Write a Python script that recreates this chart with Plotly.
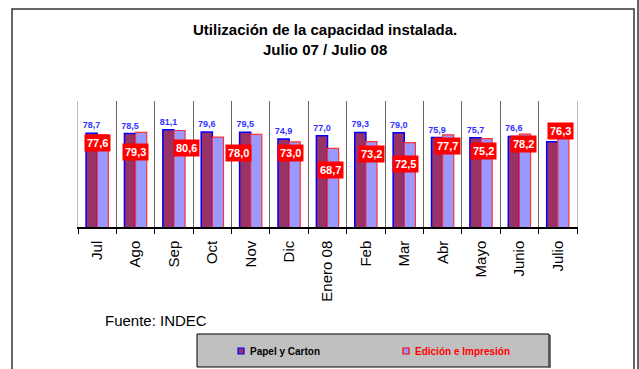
import plotly.graph_objects as go

# Monthly installed-capacity utilisation (%), July 2007 - July 2008
meses = ["Jul", "Ago", "Sep", "Oct", "Nov", "Dic", "Enero 08",
         "Feb", "Mar", "Abr", "Mayo", "Junio", "Julio"]
papel = [78.7, 78.5, 81.1, 79.6, 79.5, 74.9, 77.0, 79.3, 79.0, 75.9, 75.7, 76.6, 73.1]
edicion = [77.6, 79.3, 80.6, 76.2, 78.0, 73.0, 68.7, 73.2, 72.5, 77.7, 75.2, 78.2, 76.3]

# which points carry a value label
papel_con_rotulo = [True] * 12 + [False]
edicion_con_rotulo = [True, True, True, False, True, True, True,
                      True, True, True, True, True, True]

serie_papel = "Papel y Carton"
serie_edicion = "Edición e Impresión"

# hand placement of the red value boxes (px right, px down from bar top)
ajuste_rotulos = [(-5, 8.5), (-5.7, 19.8), (6.9, 17.6), (0, 0), (-17.8, 18.4),
                  (-4, 11.2), (-2.6, 22.2), (0.5, 12.9), (-4.5, 20.9),
                  (-0.6, 11.6), (-3.2, 12.9), (-1.6, 10), (-2.5, -6.4)]

FONT = "Arial, Liberation Sans, sans-serif"
W, H = 639, 369
ML, MR, MT, MB = 78, 62, 101, 142


def px(x):
    return (x - ML) / (W - ML - MR)


def py(y):
    return (H - MB - y) / (H - MT - MB)


def fmt(v):
    return f"{v:.1f}".replace(".", ",")


fig = go.Figure()
fig.add_trace(go.Bar(
    x=meses, y=papel, name=serie_papel,
    marker=dict(color="#993366", line=dict(color="#0000FF", width=1.5)),
    text=[fmt(v) if s else "" for v, s in zip(papel, papel_con_rotulo)],
    textposition="outside", constraintext="none", cliponaxis=False,
    textfont=dict(family=FONT, size=9, color="#3333FF", weight="bold"),
))
fig.add_trace(go.Bar(
    x=meses, y=edicion, name=serie_edicion,
    marker=dict(color="#9999FF", line=dict(color="#FF3333", width=1.2)),
    cliponaxis=False,
))

annotations = []
for m, v, s, (dx, dy) in zip(meses, edicion, edicion_con_rotulo, ajuste_rotulos):
    if not s:
        continue
    annotations.append(dict(
        x=m, y=v, xref="x", yref="y", text=fmt(v), showarrow=False,
        xanchor="center", yanchor="middle", xshift=5.6 + dx, yshift=-dy,
        bgcolor="#FF0000", borderpad=2,
        font=dict(family=FONT, size=11, color="white", weight="bold"),
    ))

# title
annotations.append(dict(
    x=px(325), y=py(39), xref="paper", yref="paper", showarrow=False,
    xanchor="center", yanchor="middle",
    text="Utilización de la capacidad instalada.<br>Julio 07 / Julio 08",
    font=dict(family=FONT, size=15, color="black", weight="bold"),
))
# source note
annotations.append(dict(
    x=px(103), y=py(320), xref="paper", yref="paper", showarrow=False,
    xanchor="left", yanchor="middle", text="Fuente: INDEC",
    font=dict(family=FONT, size=15, color="black"),
))
# legend texts
annotations.append(dict(
    x=px(248), y=py(351), xref="paper", yref="paper", showarrow=False,
    xanchor="left", yanchor="middle", text=serie_papel,
    font=dict(family=FONT, size=10, color="black", weight="bold"),
))
annotations.append(dict(
    x=px(412.5), y=py(351), xref="paper", yref="paper", showarrow=False,
    xanchor="left", yanchor="middle", text=serie_edicion,
    font=dict(family=FONT, size=10, color="#FF0000", weight="bold"),
))

shapes = [
    # chart frame
    dict(type="rect", xref="paper", yref="paper",
         x0=px(12), x1=px(634), y0=py(380), y1=py(9),
         line=dict(color="#333333", width=1.5), fillcolor="rgba(0,0,0,0)"),
    dict(type="line", xref="paper", yref="paper",
         x0=px(638), x1=px(638), y0=py(0), y1=py(369),
         line=dict(color="#333333", width=1.5)),
    # legend box with a small drop edge on the right
    dict(type="rect", xref="paper", yref="paper",
         x0=px(197), x1=px(549), y0=py(367), y1=py(334),
         line=dict(color="black", width=1), fillcolor="#C0C0C0"),
    dict(type="line", xref="paper", yref="paper",
         x0=px(550), x1=px(550), y0=py(368), y1=py(335),
         line=dict(color="#444444", width=1.5)),
    # legend swatches
    dict(type="rect", xref="paper", yref="paper",
         x0=px(238), x1=px(244), y0=py(354), y1=py(348),
         line=dict(color="#0000FF", width=1.2), fillcolor="#993366"),
    dict(type="rect", xref="paper", yref="paper",
         x0=px(403), x1=px(409), y0=py(354), y1=py(348),
         line=dict(color="#FF0000", width=1.2), fillcolor="#9999FF"),
]

fig.update_layout(
    width=W, height=H,
    margin=dict(l=ML, r=MR, t=MT, b=MB, autoexpand=False),
    paper_bgcolor="white", plot_bgcolor="white",
    barmode="group", bargap=0.42, bargroupgap=0,
    showlegend=False, separators=",.",
    font=dict(family=FONT),
    annotations=annotations, shapes=shapes,
    xaxis=dict(
        type="category", tickson="boundaries", ticks="outside", ticklen=5,
        tickcolor="black", tickwidth=1.2,
        showline=True, linecolor="black", linewidth=1.5,
        showgrid=True, gridcolor="#666666", gridwidth=1,
        tickangle=-90, ticklabelstandoff=6,
        tickfont=dict(family=FONT, size=15, color="black"),
    ),
    yaxis=dict(
        range=[16.1, 100.3], showticklabels=False, ticks="",
        showgrid=False, zeroline=False,
        showline=True, linecolor="#C0C0C0", linewidth=1, mirror=True,
    ),
)

fig.write_html("out.html")
